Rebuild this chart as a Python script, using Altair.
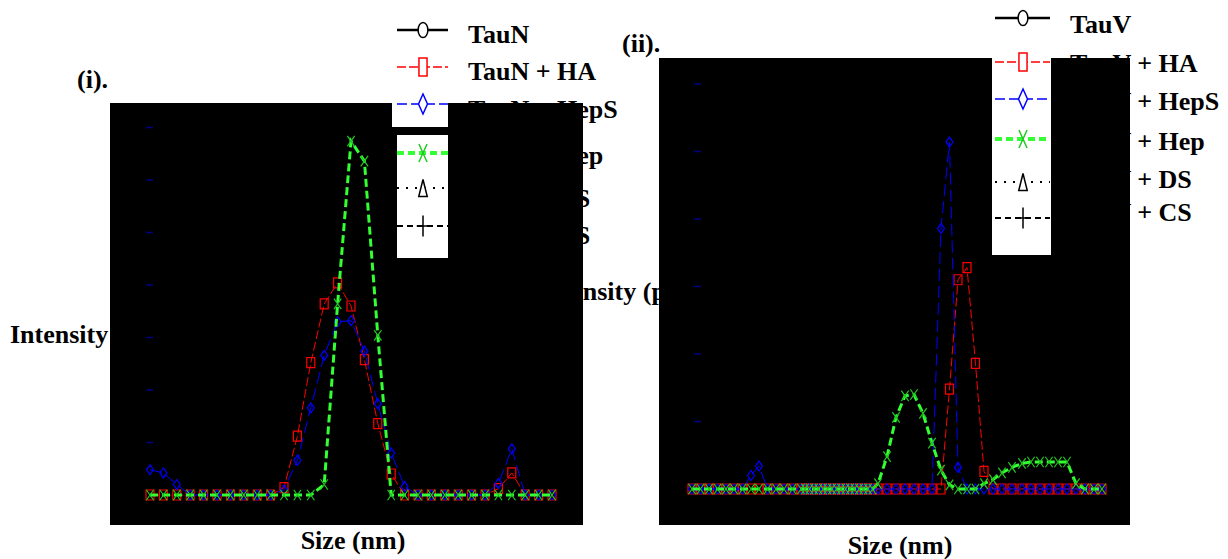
import altair as alt
import pandas as pd

MARGIN = 8


def X(v):
    return v - MARGIN


def Y(v):
    return v - MARGIN


FONT = "Liberation Serif"

# ---------------- data ----------------
# Panel (i): size-bin index and intensity (percent)
bins_i = list(range(31))
taun_ha = [0, 0, 0, 0, 0, 0, 0, 0, 0, 0,
           0.7, 5.6, 12.6, 18.2, 20.2, 18.0, 12.9, 6.8, 2.0, 0,
           0, 0, 0, 0, 0, 0, 0.6, 2.1, 0, 0, 0]
taun_heps = [2.4, 2.1, 1.0, 0, 0, 0, 0, 0, 0, 0,
             0.5, 3.3, 8.3, 13.3, 16.5, 16.6, 13.7, 8.7, 4.0, 0.8,
             0, 0, 0, 0, 0, 0, 1.1, 4.4, 0, 0, 0]
taun_hep = [0, 0, 0, 0, 0, 0, 0, 0, 0, 0,
            0, 0, 0, 1.0, 18.2, 33.7, 31.8, 15.2, 0, 0,
            0, 0, 0, 0, 0, 0, 0, 0, 0, 0, 0]
ticks_i = [5, 10, 15, 20, 25, 30, 35]

# Panel (ii): size position (axis units) and intensity (percent)
size_ii = [0, 8.5, 17, 25.5, 34, 42, 50.5, 59, 67, 75.5, 84, 92, 100.5, 109,
           113, 117.5, 122, 126.5, 131, 135.5, 140, 144.5, 149, 153.5, 158, 162.5, 167, 171.5, 176, 180.5,
           186, 195, 204, 213, 222, 231, 240, 249, 257.5, 266, 275, 283.5, 292, 301, 310, 320,
           330, 339, 348, 357, 366, 375, 384, 393, 402, 410]
tauv_ha = [0, 0, 0, 0, 0, 0, 0, 0, 0, 0, 0, 0, 0, 0,
           0, 0, 0, 0, 0, 0, 0, 0, 0, 0, 0, 0, 0, 0, 0, 0,
           0, 0, 0, 0, 0, 0, 0, 0, 7.4, 15.5, 16.4, 9.3, 1.3, 0, 0, 0,
           0, 0, 0, 0, 0, 0, 0, 0, 0, 0]
tauv_heps = [0, 0, 0, 0, 0, 0, 0, 1.0, 1.7, 0, 0, 0, 0, 0,
             0, 0, 0, 0, 0, 0, 0, 0, 0, 0, 0, 0, 0, 0, 0, 0,
             0, 0, 0, 0, 0, 0, 0, 19.3, 25.7, 1.6, 0, 0, 0, 0, 0, 0,
             0, 0, 0, 0, 0, 0, 0, 0, 0, 0]
tauv_hep = [0, 0, 0, 0, 0, 0, 0, 0, 0, 0, 0, 0, 0, 0,
            0, 0, 0, 0, 0, 0, 0, 0, 0, 0, 0, 0, 0, 0, 0, 0,
            0.4, 2.4, 5.3, 6.9, 7.0, 5.6, 3.4, 1.4, 0.3, 0, 0, 0, 0.4, 0.7, 1.2, 1.6,
            1.9, 2.0, 2.0, 2.0, 2.0, 2.0, 0.4, 0, 0, 0]
ticks_ii = [5, 10, 15, 20, 25, 30]

legend_i = ["TauN", "TauN + HA", "TauN + HepS", "TauN + Hep", "TauN + DS", "TauN + CS"]
legend_ii = ["TauV", "TauV + HA", "TauV + HepS", "TauV + Hep", "TauV + DS", "TauV + CS"]
legend_rows = [0, 1, 2, 3, 4, 5]

# ---------------- styles ----------------
RED = "#ff0000"
BLUE = "#0000ff"
GREEN_LINE = "#33ff33"
GREEN_MARK = "#22c822"
NAVY = "#000080"

P_SQUARE = "M-0.8,-1L0.8,-1L0.8,1L-0.8,1Z"
P_DIAMOND = "M0,-1L0.7,0L0,1L-0.7,0Z"
P_X = "M-0.7,-1L0.7,1M-0.7,1L0.7,-1"

L_ELLIPSE = "M0,-1A0.65,1,0,1,1,0,1A0.65,1,0,1,1,0,-1Z"
L_RECT = "M-0.45,-1L0.45,-1L0.45,1L-0.45,1Z"
L_DIAMOND = "M0,-1L0.45,0L0,1L-0.45,0Z"
L_X = "M-0.45,-1L0.45,1M-0.45,1L0.45,-1"
L_TRI = "M0,-1L0.5,1L-0.5,1Z"
L_PLUS = "M0,-1L0,1M-0.6,0L0.6,0"

legend_styles = [
    dict(color="black", dash=[1, 0], width=2.5, shape=L_ELLIPSE, size=225, fill="white", mstroke="black"),
    dict(color=RED, dash=[9, 3], width=1.5, shape=L_RECT, size=324, fill="white", mstroke=RED),
    dict(color=BLUE, dash=[10, 4], width=1.5, shape=L_DIAMOND, size=400, fill="white", mstroke=BLUE),
    dict(color=GREEN_LINE, dash=[7, 4], width=4, shape=L_X, size=324, fill=None, mstroke=GREEN_MARK),
    dict(color="black", dash=[2, 7], width=2, shape=L_TRI, size=289, fill="white", mstroke="black"),
    dict(color="black", dash=[6, 4], width=2, shape=L_PLUS, size=441, fill=None, mstroke="black"),
]


def text_layer(s, x, y, size=26, align="left"):
    return alt.Chart(pd.DataFrame({"t": [s]})).mark_text(
        font=FONT, fontWeight="bold", fontSize=size, align=align, baseline="middle", color="black"
    ).encode(text="t:N", x=alt.value(X(x)), y=alt.value(Y(y)))


def rect_layer(x1, x2, y1, y2, color):
    return alt.Chart(pd.DataFrame({"a": [0]})).mark_rect(color=color, opacity=1).encode(
        x=alt.value(X(x1)), x2=alt.value(X(x2)), y=alt.value(Y(y1)), y2=alt.value(Y(y2))
    )


def series_layers(xs, ys, sx, sy, color, dash, width, shape, mcolor, msize):
    df = pd.DataFrame({"x": xs, "y": ys})
    base = alt.Chart(df).encode(
        x=alt.X("x:Q", scale=sx, axis=None),
        y=alt.Y("y:Q", scale=sy, axis=None),
    )
    line = base.mark_line(color=color, strokeWidth=width, strokeDash=dash)
    pts = base.mark_point(shape=shape, size=msize, filled=False, color=mcolor, strokeWidth=1.2, opacity=1)
    return [line, pts]


def tick_layer(vals, sy, x1, x2):
    return alt.Chart(pd.DataFrame({"v": vals})).mark_rule(color=NAVY, strokeWidth=1.5).encode(
        x=alt.value(X(x1)), x2=alt.value(X(x2)), y=alt.Y("v:Q", scale=sy, axis=None)
    )


def legend_scale(ys):
    return alt.Scale(domain=legend_rows, range=[Y(v) for v in ys], nice=False, zero=False)


def legend_text(names, x, ys):
    sc = legend_scale(ys)
    df = pd.DataFrame({"row": legend_rows, "name": names})
    return alt.Chart(df).mark_text(
        font=FONT, fontWeight="bold", fontSize=26, align="left", baseline="middle", color="black"
    ).encode(text="name:N", x=alt.value(X(x)), y=alt.Y("row:Q", scale=sc, axis=None))


def legend_symbols(x0, x1, xm, ys):
    sc = legend_scale(ys)
    layers = []
    for r, st in zip(legend_rows, legend_styles):
        df = pd.DataFrame({"row": [r]})
        yenc = alt.Y("row:Q", scale=sc, axis=None)
        layers.append(alt.Chart(df).mark_rule(
            color=st["color"], strokeWidth=st["width"], strokeDash=st["dash"]
        ).encode(x=alt.value(X(x0)), x2=alt.value(X(x1)), y=yenc))
        if st["fill"]:
            pt = alt.Chart(df).mark_point(shape=st["shape"], size=st["size"], filled=True,
                                          fill=st["fill"], fillOpacity=1, stroke=st["mstroke"],
                                          strokeWidth=1.5, opacity=1)
        else:
            pt = alt.Chart(df).mark_point(shape=st["shape"], size=st["size"], filled=False,
                                          color=st["mstroke"], strokeWidth=1.5, opacity=1)
        layers.append(pt.encode(x=alt.value(X(xm)), y=yenc))
    return alt.layer(*layers)


# scales
sx_i = alt.Scale(domain=[0, 30], range=[X(150), X(552)], nice=False, zero=False)
sy_i = alt.Scale(domain=[0, 40], range=[Y(495), Y(75)], nice=False, zero=False)
sx_ii = alt.Scale(domain=[0, 410], range=[X(692), X(1102)], nice=False, zero=False)
sy_ii = alt.Scale(domain=[0, 35], range=[Y(489), Y(16.5)], nice=False, zero=False)

# text under panels
texts = alt.layer(
    text_layer("(i).", 77, 80),
    text_layer("(ii).", 622, 44),
    text_layer("Intensity (percent)", 10, 335),
    text_layer("Intensity (percent)", 538, 292),
    text_layer("Size (nm)", 353, 541, align="center"),
    text_layer("Size (nm)", 900, 546, align="center"),
)

panels_bg = alt.layer(
    rect_layer(110, 583, 103, 525, "black"),
    rect_layer(659, 1130, 58, 525, "black"),
)

panel_i = alt.layer(
    tick_layer(ticks_i, sy_i, 146, 153),
    *series_layers(bins_i, taun_ha, sx_i, sy_i, RED, [9, 3], 1, P_SQUARE, RED, 100),
    *series_layers(bins_i, taun_heps, sx_i, sy_i, BLUE, [12, 5], 1, P_DIAMOND, BLUE, 100),
    *series_layers(bins_i, taun_hep, sx_i, sy_i, GREEN_LINE, [8, 4], 3, P_X, GREEN_MARK, 110),
)

panel_ii = alt.layer(
    tick_layer(ticks_ii, sy_ii, 694, 701),
    *series_layers(size_ii, tauv_ha, sx_ii, sy_ii, RED, [9, 3], 1, P_SQUARE, RED, 100),
    *series_layers(size_ii, tauv_heps, sx_ii, sy_ii, BLUE, [12, 5], 1, P_DIAMOND, BLUE, 100),
    *series_layers(size_ii, tauv_hep, sx_ii, sy_ii, GREEN_LINE, [8, 4], 3, P_X, GREEN_MARK, 110),
)

legend_boxes = alt.layer(
    rect_layer(392, 448, 103, 127, "white"),
    rect_layer(397, 448, 135, 258, "white"),
    rect_layer(992, 1051, 57, 255, "white"),
)

chart = alt.layer(
    texts,
    legend_text(legend_i, 468, [35, 72, 110, 156, 199, 236]),
    legend_text(legend_ii, 1070, [25, 64, 102, 142, 180, 213]),
    panels_bg,
    panel_i,
    panel_ii,
    legend_boxes,
    legend_symbols(397, 448, 423, [30, 67, 104, 153, 188, 226]),
    legend_symbols(995, 1050, 1023, [18, 62, 99, 139, 182, 218]),
).resolve_scale(
    x="independent", y="independent"
).properties(
    width=1212, height=551, padding=0,
    autosize=alt.AutoSizeParams(type="none"),
    background="white",
).configure_view(strokeWidth=0)

chart.save("out.html", embed_options={"renderer": "svg", "actions": False})
